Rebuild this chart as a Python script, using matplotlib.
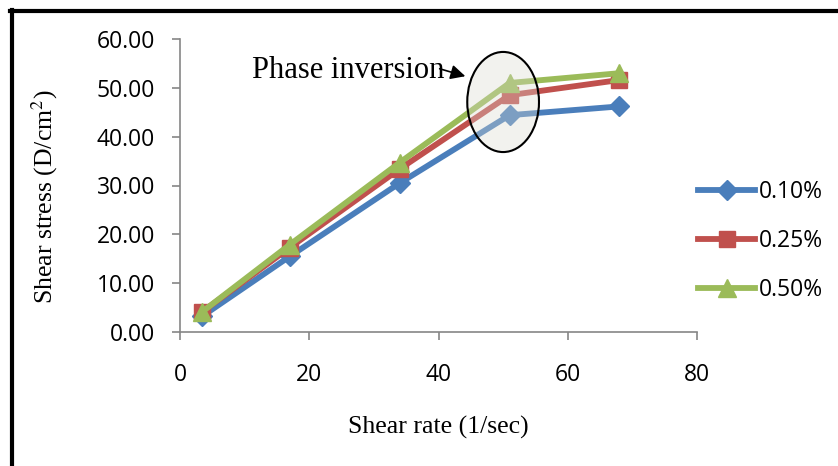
import matplotlib
matplotlib.use("Agg")
import matplotlib.pyplot as plt
from matplotlib.patches import Ellipse
from matplotlib.lines import Line2D
from matplotlib.ticker import FormatStrFormatter

# data
shear_rate = [3.4, 17, 34, 51, 68]
stress_010 = [3.2, 15.5, 30.5, 44.4, 46.2]
stress_025 = [4.1, 17.3, 33.4, 48.5, 51.6]
stress_050 = [4.1, 17.9, 34.7, 51.0, 53.0]
labels = ["0.10%", "0.25%", "0.50%"]

W, H = 838, 466
fig = plt.figure(figsize=(W / 100, H / 100), dpi=100)
ax = fig.add_axes([180 / W, 1 - 332 / H, (697 - 180) / W, (332 - 39) / H])

plt.rcParams['mathtext.fontset'] = 'stix'
tick_font = "Open Sans"
serif = "Liberation Serif"

ax.plot(shear_rate, stress_010, color="#4A7EBB", lw=4.2, marker="D", ms=10,
        label=labels[0], zorder=3)
ax.plot(shear_rate, stress_025, color="#C0504D", lw=4.2, marker="s", ms=12,
        label=labels[1], zorder=4)
ax.plot(shear_rate, stress_050, color="#9BBB59", lw=4.2, marker="^", ms=13,
        label=labels[2], zorder=5)

ax.set_xlim(0, 80)
ax.set_ylim(0, 60)
ax.set_xticks([0, 20, 40, 60, 80])
ax.set_yticks([0, 10, 20, 30, 40, 50, 60])
ax.yaxis.set_major_formatter(FormatStrFormatter("%.2f"))
for s in ["top", "right"]:
    ax.spines[s].set_visible(False)
for s in ["left", "bottom"]:
    ax.spines[s].set_color("#868686")
    ax.spines[s].set_linewidth(1.2)
ax.tick_params(axis="both", colors="#868686", length=6, width=1.2,
               labelcolor="black", labelsize=16.5)
ax.tick_params(axis="x", pad=16)
ax.tick_params(axis="y", pad=12)
for t in ax.get_xticklabels() + ax.get_yticklabels():
    t.set_fontfamily(tick_font)

# phase inversion highlight
ell = Ellipse((50, 47.1), 11.1, 20.5, facecolor=(0.86, 0.86, 0.82, 0.35),
              edgecolor="black", lw=1.5, zorder=6)
ax.add_patch(ell)
fig.text(252 / W, 1 - 78 / H, "Phase inversion", fontsize=22, family=serif,
         va="baseline", ha="left")
ax.annotate("", xy=(468, H - 77), xycoords="figure pixels",
            xytext=(437, H - 68), textcoords="figure pixels",
            arrowprops=dict(arrowstyle="-|>", color="black", lw=1.2,
                            mutation_scale=22))

fig.text(438 / W, 1 - 427 / H, "Shear rate (1/sec)", fontsize=18.5,
         family=serif, ha="center", va="center")
fig.text(45 / W, 1 - 197 / H, "Shear stress (D/cm$^2$)", fontsize=18.5,
         family=serif, ha="center", va="center", rotation=90)

leg = fig.legend(loc="center left", bbox_to_anchor=(698 / W, 1 - 241 / H),
                 frameon=False, borderpad=0, borderaxespad=0,
                 handlelength=2.5, handletextpad=0.15, labelspacing=1.1,
                 prop={"family": tick_font, "size": 16.5})

# outer frame (left and top)
fig.add_artist(Line2D([12 / W, 12 / W], [0, 1 - 10 / H], color="black",
                      lw=3, transform=fig.transFigure))
fig.add_artist(Line2D([10 / W, 1], [1 - 11 / H, 1 - 11 / H], color="black",
                      lw=3, transform=fig.transFigure))

fig.savefig("out.png", dpi=100)
